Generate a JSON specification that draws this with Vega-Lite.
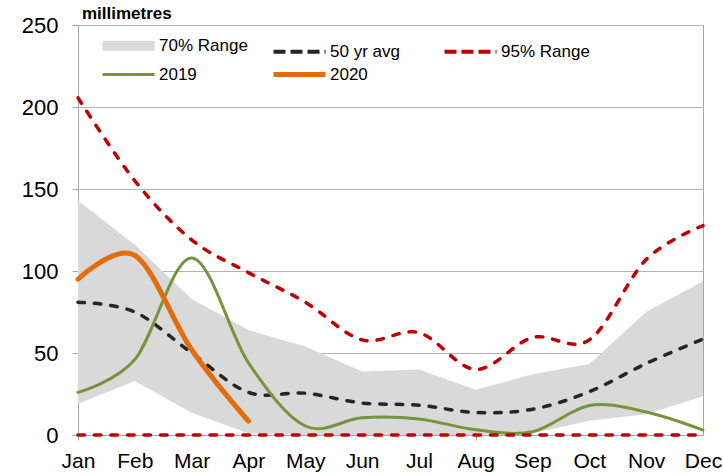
{
  "$schema": "https://vega.github.io/schema/vega-lite/v6.json",
  "width": 625,
  "height": 410,
  "autosize": {"type": "none"},
  "padding": {"left": 78, "top": 25, "right": 20, "bottom": 41},
  "background": "white",
  "title": {
    "text": "millimetres",
    "anchor": "start",
    "frame": "group",
    "font": "Liberation Sans",
    "fontSize": 17,
    "fontWeight": "bold",
    "color": "black",
    "offset": -9,
    "dx": 4
  },
  "config": {
    "view": {"stroke": "#a6a6a6", "strokeWidth": 1},
    "axis": {
      "labelFont": "Liberation Sans",
      "labelColor": "black",
      "domainColor": "#a6a6a6",
      "tickColor": "#a6a6a6",
      "gridColor": "#b3b3b3",
      "title": null
    },
    "legend": {
      "labelFont": "Liberation Sans",
      "labelFontSize": 17,
      "labelColor": "black"
    }
  },
  "datasets": {
    "band": [
      {"month": "Jan", "series": "70% Range", "lo": 19, "hi": 143},
      {"month": "Feb", "series": "70% Range", "lo": 33, "hi": 116},
      {"month": "Mar", "series": "70% Range", "lo": 13.5, "hi": 83},
      {"month": "Apr", "series": "70% Range", "lo": 1, "hi": 64},
      {"month": "May", "series": "70% Range", "lo": 0, "hi": 54},
      {"month": "Jun", "series": "70% Range", "lo": 0, "hi": 38.7},
      {"month": "Jul", "series": "70% Range", "lo": 0, "hi": 40},
      {"month": "Aug", "series": "70% Range", "lo": 0, "hi": 27.6},
      {"month": "Sep", "series": "70% Range", "lo": 1, "hi": 37},
      {"month": "Oct", "series": "70% Range", "lo": 8.7, "hi": 43.3},
      {"month": "Nov", "series": "70% Range", "lo": 12.7, "hi": 75},
      {"month": "Dec", "series": "70% Range", "lo": 23.6, "hi": 93.8}
    ],
    "lines": [
      {"month": "Jan", "series": "50 yr avg", "line": "avg", "value": 81},
      {"month": "Feb", "series": "50 yr avg", "line": "avg", "value": 75},
      {"month": "Mar", "series": "50 yr avg", "line": "avg", "value": 50},
      {"month": "Apr", "series": "50 yr avg", "line": "avg", "value": 26},
      {"month": "May", "series": "50 yr avg", "line": "avg", "value": 25.5},
      {"month": "Jun", "series": "50 yr avg", "line": "avg", "value": 19.5},
      {"month": "Jul", "series": "50 yr avg", "line": "avg", "value": 18.2},
      {"month": "Aug", "series": "50 yr avg", "line": "avg", "value": 13.7},
      {"month": "Sep", "series": "50 yr avg", "line": "avg", "value": 15.7},
      {"month": "Oct", "series": "50 yr avg", "line": "avg", "value": 26.4},
      {"month": "Nov", "series": "50 yr avg", "line": "avg", "value": 43.6},
      {"month": "Dec", "series": "50 yr avg", "line": "avg", "value": 58.5},
      {"month": "Jan", "series": "2019", "line": "2019", "value": 26},
      {"month": "Feb", "series": "2019", "line": "2019", "value": 46},
      {"month": "Mar", "series": "2019", "line": "2019", "value": 108},
      {"month": "Apr", "series": "2019", "line": "2019", "value": 44},
      {"month": "May", "series": "2019", "line": "2019", "value": 5.5},
      {"month": "Jun", "series": "2019", "line": "2019", "value": 10.5},
      {"month": "Jul", "series": "2019", "line": "2019", "value": 9.8},
      {"month": "Aug", "series": "2019", "line": "2019", "value": 3.2},
      {"month": "Sep", "series": "2019", "line": "2019", "value": 2},
      {"month": "Oct", "series": "2019", "line": "2019", "value": 18},
      {"month": "Nov", "series": "2019", "line": "2019", "value": 14},
      {"month": "Dec", "series": "2019", "line": "2019", "value": 3},
      {"month": "Jan", "series": "2020", "line": "2020", "value": 95},
      {"month": "Feb", "series": "2020", "line": "2020", "value": 109.5},
      {"month": "Mar", "series": "2020", "line": "2020", "value": 52},
      {"month": "Apr", "series": "2020", "line": "2020", "value": 8.5},
      {"month": "Jan", "series": "95% Range", "line": "upper", "value": 205.6},
      {"month": "Feb", "series": "95% Range", "line": "upper", "value": 155},
      {"month": "Mar", "series": "95% Range", "line": "upper", "value": 119},
      {"month": "Apr", "series": "95% Range", "line": "upper", "value": 99},
      {"month": "May", "series": "95% Range", "line": "upper", "value": 81},
      {"month": "Jun", "series": "95% Range", "line": "upper", "value": 58},
      {"month": "Jul", "series": "95% Range", "line": "upper", "value": 62.4},
      {"month": "Aug", "series": "95% Range", "line": "upper", "value": 40},
      {"month": "Sep", "series": "95% Range", "line": "upper", "value": 59.5},
      {"month": "Oct", "series": "95% Range", "line": "upper", "value": 58},
      {"month": "Nov", "series": "95% Range", "line": "upper", "value": 107},
      {"month": "Dec", "series": "95% Range", "line": "upper", "value": 127.7},
      {"month": "Jan", "series": "95% Range", "line": "lower", "value": 0},
      {"month": "Feb", "series": "95% Range", "line": "lower", "value": 0},
      {"month": "Mar", "series": "95% Range", "line": "lower", "value": 0},
      {"month": "Apr", "series": "95% Range", "line": "lower", "value": 0},
      {"month": "May", "series": "95% Range", "line": "lower", "value": 0},
      {"month": "Jun", "series": "95% Range", "line": "lower", "value": 0},
      {"month": "Jul", "series": "95% Range", "line": "lower", "value": 0},
      {"month": "Aug", "series": "95% Range", "line": "lower", "value": 0},
      {"month": "Sep", "series": "95% Range", "line": "lower", "value": 0},
      {"month": "Oct", "series": "95% Range", "line": "lower", "value": 0},
      {"month": "Nov", "series": "95% Range", "line": "lower", "value": 0},
      {"month": "Dec", "series": "95% Range", "line": "lower", "value": 0}
    ]
  },
  "encoding": {
    "x": {
      "field": "month",
      "type": "ordinal",
      "sort": ["Jan","Feb","Mar","Apr","May","Jun","Jul","Aug","Sep","Oct","Nov","Dec"],
      "scale": {"type": "point", "padding": 0, "domain": ["Jan","Feb","Mar","Apr","May","Jun","Jul","Aug","Sep","Oct","Nov","Dec"]},
      "axis": {
        "labelAngle": 0,
        "labelFontSize": 21,
        "tickSize": 5,
        "labelPadding": 10,
        "grid": false,
        "tickColor": {"condition": {"test": "datum.value === 'Jan' || datum.value === 'Aug'", "value": "#a6a6a6"}, "value": "transparent"}
      }
    }
  },
  "layer": [
    {
      "data": {"name": "band"},
      "mark": {"type": "area", "opacity": 1},
      "encoding": {
        "y": {
          "field": "lo",
          "type": "quantitative",
          "scale": {"domain": [0, 250], "nice": false},
          "axis": {"values": [0, 50, 100, 150, 200, 250], "labelFontSize": 22, "tickSize": 6, "labelPadding": 14, "grid": true}
        },
        "y2": {"field": "hi"},
        "color": {
          "field": "series",
          "type": "nominal",
          "scale": {
            "domain": ["70% Range", "50 yr avg", "95% Range", "2019", "2020"],
            "range": ["#d9d9d9", "#262626", "#c00000", "#77933c", "#e46c0a"]
          },
          "legend": {
            "title": null,
            "orient": "none",
            "legendX": 42,
            "legendY": 12,
            "direction": "horizontal",
            "columns": 3,
            "gridAlign": "all",
            "columnPadding": 15,
            "rowPadding": -29,
            "padding": 0,
            "symbolType": "stroke",
            "symbolSize": 2704,
            "symbolOpacity": 1,
            "labelOffset": 22,
            "symbolStrokeWidth": {"expr": "datum.value === '70% Range' ? 10 : datum.value === '2020' ? 5 : datum.value === '2019' ? 3 : 4"},
            "symbolDash": {"expr": "datum.value === '50 yr avg' || datum.value === '95% Range' ? [12, 5] : [1, 0]"}
          }
        }
      }
    },
    {
      "data": {"name": "lines"},
      "transform": [{"filter": "datum.series === '50 yr avg'"}],
      "mark": {"type": "line", "interpolate": "cardinal", "strokeWidth": 3.5, "strokeDash": [6.5, 10], "strokeCap": "round"},
      "encoding": {
        "y": {"field": "value", "type": "quantitative"},
        "color": {"field": "series", "type": "nominal"},
        "detail": {"field": "line"}
      }
    },
    {
      "data": {"name": "lines"},
      "transform": [{"filter": "datum.series === '2019'"}],
      "mark": {"type": "line", "interpolate": "cardinal", "strokeWidth": 3, "strokeCap": "round"},
      "encoding": {
        "y": {"field": "value", "type": "quantitative"},
        "color": {"field": "series", "type": "nominal"},
        "detail": {"field": "line"}
      }
    },
    {
      "data": {"name": "lines"},
      "transform": [{"filter": "datum.series === '2020'"}],
      "mark": {"type": "line", "interpolate": "cardinal", "strokeWidth": 5, "strokeCap": "round"},
      "encoding": {
        "y": {"field": "value", "type": "quantitative"},
        "color": {"field": "series", "type": "nominal"},
        "detail": {"field": "line"}
      }
    },
    {
      "data": {"name": "lines"},
      "transform": [{"filter": "datum.series === '95% Range'"}],
      "mark": {"type": "line", "interpolate": "cardinal", "strokeWidth": 3.5, "strokeDash": [6.5, 10], "strokeCap": "round", "clip": false},
      "encoding": {
        "y": {"field": "value", "type": "quantitative"},
        "color": {"field": "series", "type": "nominal"},
        "detail": {"field": "line"}
      }
    }
  ]
}
